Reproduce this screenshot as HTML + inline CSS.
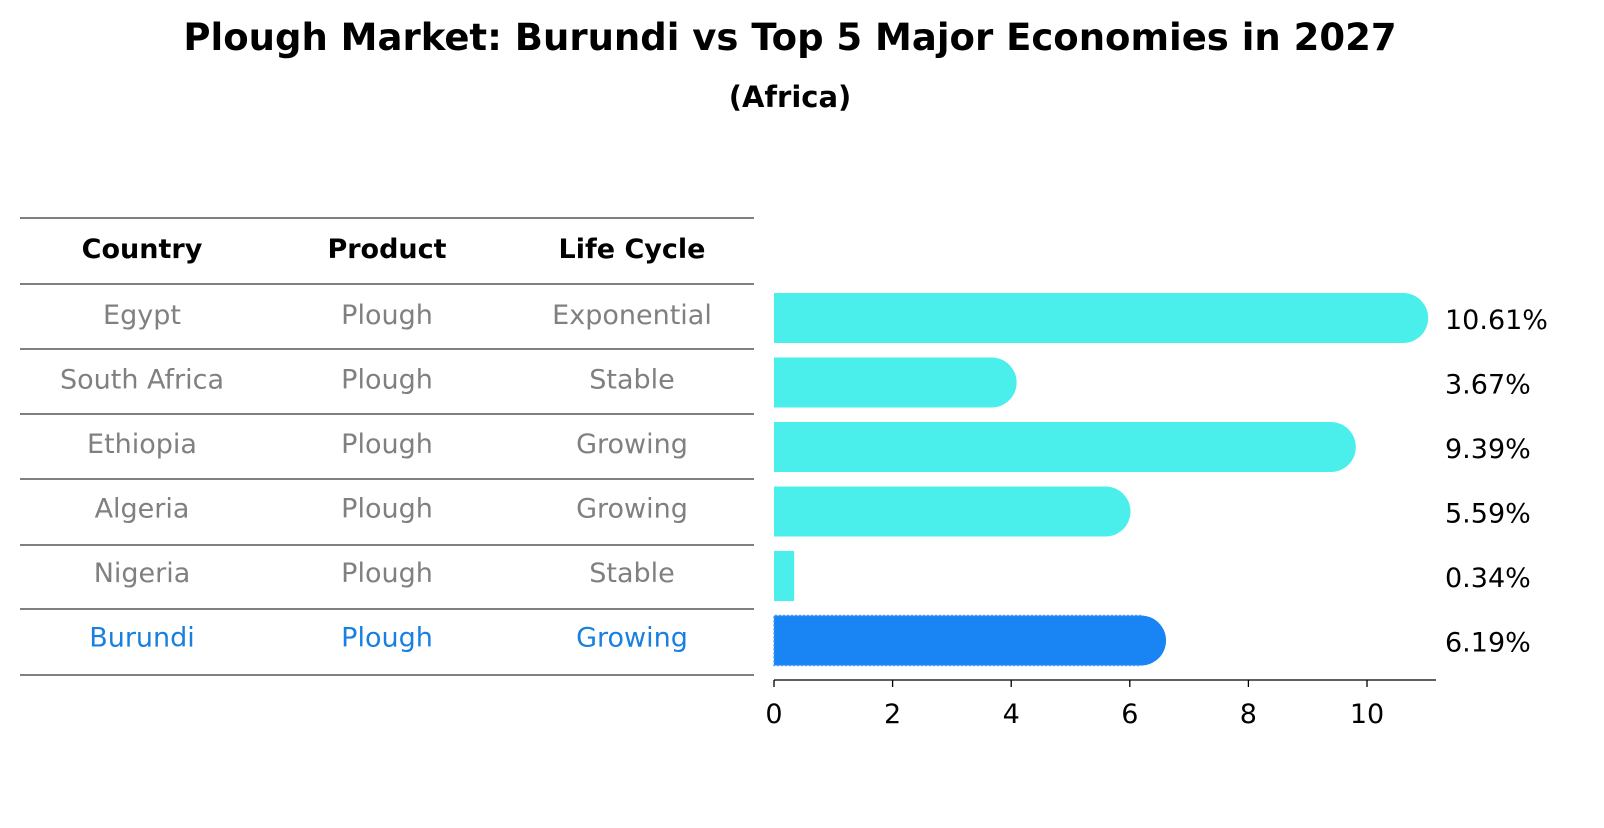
<!DOCTYPE html>
<html><head><meta charset="utf-8"><style>
body{margin:0;background:#fff;font-family:"Liberation Sans","DejaVu Sans",sans-serif}
</style></head><body>
<svg id="c" width="1604" height="823" xmlns="http://www.w3.org/2000/svg">
<text x="790" y="50" text-anchor="middle" font-size="37" font-weight="bold" font-family="DejaVu Sans, sans-serif">Plough Market: Burundi vs Top 5 Major Economies in 2027</text>
<text x="790" y="107" text-anchor="middle" font-size="29" font-weight="bold" font-family="DejaVu Sans, sans-serif">(Africa)</text>
<g id="tbl"></g>
<g id="bars"></g>
<g id="axis"></g>
</svg>
<script>
const countries=["Egypt","South Africa","Ethiopia","Algeria","Nigeria","Burundi"];
const products=["Plough","Plough","Plough","Plough","Plough","Plough"];
const cycles=["Exponential","Stable","Growing","Growing","Stable","Growing"];
const values=[10.61,3.67,9.39,5.59,0.34,6.19];
const ticks=[0,2,4,6,8,10];
const NS="http://www.w3.org/2000/svg";
const F="DejaVu Sans, sans-serif";
const FS=27;
function mk(t,a,p){const e=document.createElementNS(NS,t);for(const k in a)e.setAttribute(k,a[k]);p.appendChild(e);return e;}
const x0=774,sc=59.3,xs=v=>x0+v*sc;
const rowY=i=>318+i*64.5;
const tbl=document.getElementById('tbl');
const lines=[218,284,349,414,479,545,609,675];
lines.forEach((y,i)=>{const l=mk('line',{x1:20,x2:754,y1:y,y2:y,stroke:'#000','stroke-width':1},tbl);

});
const cx=[142,387,632];
["Country","Product","Life Cycle"].forEach((h,j)=>{const t=mk('text',{x:cx[j],y:258,'text-anchor':'middle','font-size':FS,'font-weight':'bold','font-family':F},tbl);t.textContent=h;

});
countries.forEach((c,i)=>{const col=i==5?'#1a80e0':'#808080';
[c,products[i],cycles[i]].forEach((s,j)=>{const t=mk('text',{x:cx[j],y:rowY(i)+6,'text-anchor':'middle','font-size':FS,fill:col,'font-family':F},tbl);t.textContent=s;

});});
const bars=document.getElementById('bars');
const r=25;
values.forEach((v,i)=>{const y=rowY(i)-25,col=i==5?'#1985f5':'#4aefeb';const xe=xs(v);
const g=mk('g',{},bars);


mk('rect',{x:x0,y:y,width:xe-x0,height:50,fill:col},g);
if(xe-x0>=2*r)mk('circle',{cx:xe,cy:y+25,r:r,fill:col},g);
if(i==5)mk('path',{d:`M${xe},${y} H${x0} V${y+50} H${xe}`,fill:'none',stroke:'#4a9ff5','stroke-width':1.5,'stroke-dasharray':'2 2'},g);
const t=mk('text',{x:1445,y:rowY(i)+11,'font-size':FS,'font-family':F},bars);t.textContent=v.toFixed(2)+'%';

});
const ax=document.getElementById('axis');
mk('line',{x1:x0,x2:1436,y1:680,y2:680,stroke:'#000','stroke-width':1.3},ax);
ticks.forEach(v=>{mk('line',{x1:xs(v),x2:xs(v),y1:680,y2:687,stroke:'#000','stroke-width':1.3},ax);
const t=mk('text',{x:xs(v),y:723,'text-anchor':'middle','font-size':FS,'font-family':F},ax);t.textContent=v;

});
</script>
</body></html>
